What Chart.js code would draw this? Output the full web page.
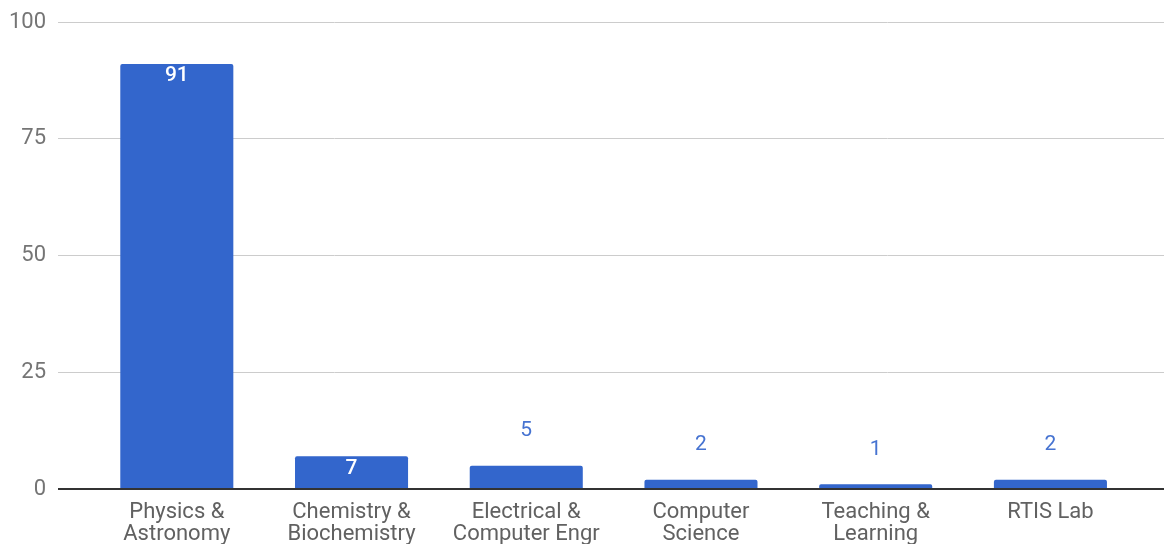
<!DOCTYPE html>
<html>
<head>
<meta charset="utf-8">
<script src="https://cdn.jsdelivr.net/npm/chart.js@4.4.1/dist/chart.umd.min.js"></script>
<style>
  html, body { margin: 0; padding: 0; background: #fff; }
  #wrap { width: 1164px; height: 544px; position: relative; }
</style>
</head>
<body>
<div id="wrap"><canvas id="deptChart"></canvas></div>
<script>
// department labels (already split into lines as shown)
const categories = [
    ['Physics &', 'Astronomy'],
    ['Chemistry &', 'Biochemistry'],
    ['Electrical &', 'Computer Engr'],
    ['Computer', 'Science'],
    ['Teaching &', 'Learning'],
    ['RTIS Lab']
];
const counts = [91, 7, 5, 2, 1, 2];
const yTicks = [0, 25, 50, 75, 100];

const barColor = '#3366cc';

// value labels: white inside tall bars, blue above short ones
const valueLabels = {
    id: 'valueLabels',
    afterDatasetsDraw(chart) {
        const ctx = chart.ctx;
        const meta = chart.getDatasetMeta(0);
        ctx.save();
        ctx.textAlign = 'center';
        ctx.textBaseline = 'middle';
        meta.data.forEach(function (bar, i) {
            const h = bar.base - bar.y;
            if (h > 25) {
                ctx.fillStyle = '#ffffff';
                ctx.font = '500 21px Roboto';
                ctx.fillText(String(counts[i]), bar.x, bar.y + 12);
            } else {
                ctx.fillStyle = '#4673d1';
                ctx.font = '21px Roboto';
                ctx.fillText(String(counts[i]), bar.x, bar.y - 35);
            }
        });
        ctx.restore();
    }
};

new Chart(document.getElementById('deptChart'), {
    type: 'bar',
    data: {
        datasets: [{
            data: counts.map((v, i) => ({ x: i, y: v })),
            backgroundColor: barColor,
            borderRadius: 2,
            borderSkipped: 'bottom',
            barPercentage: 0.647,
            categoryPercentage: 1
        }]
    },
    options: {
        responsive: true,
        maintainAspectRatio: false,
        animation: false,
        layout: { padding: { top: 22, right: 0, left: 0, bottom: 0 } },
        plugins: {
            legend: { display: false },
            tooltip: { enabled: false }
        },
        scales: {
            x: {
                type: 'linear',
                offset: false,
                min: -0.68,
                max: 5.65,
                afterBuildTicks(scale) {
                    scale.ticks = categories.map((c, i) => ({ value: i }));
                },
                afterFit(scale) { scale.height = 55; },
                grid: { display: false },
                border: { display: false },
                ticks: {
                    autoSkip: false,
                    maxRotation: 0,
                    padding: 4,
                    color: '#616161',
                    font: { family: 'Roboto', size: 22, lineHeight: 1.0 },
                    callback: function (value) { return categories[value]; }
                }
            },
            y: {
                min: 0,
                max: 100,
                afterBuildTicks(scale) {
                    scale.ticks = yTicks.map(v => ({ value: v }));
                },
                afterFit(scale) {
                    scale.width = 58;
                    scale.paddingTop = 0;
                    scale.paddingBottom = 0;
                },
                border: { display: false },
                grid: {
                    drawTicks: false,
                    color: ctx => ctx.tick && ctx.tick.value === 0 ? '#333333' : '#cccccc',
                    lineWidth: ctx => ctx.tick && ctx.tick.value === 0 ? 2 : 1
                },
                ticks: {
                    padding: 12,
                    color: '#757575',
                    font: { family: 'Roboto', size: 22 }
                }
            }
        }
    },
    plugins: [valueLabels]
});
</script>
</body>
</html>
